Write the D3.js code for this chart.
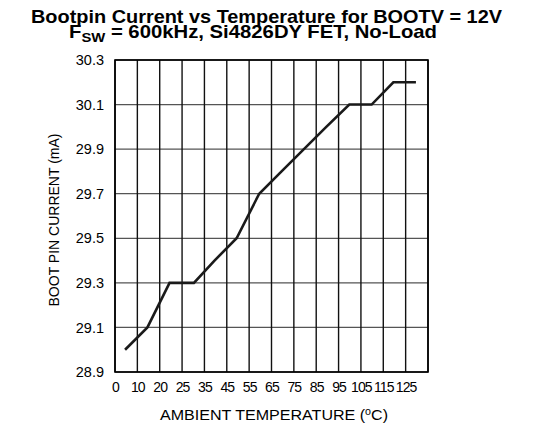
<!DOCTYPE html>
<html>
<head>
<meta charset="utf-8">
<script src="https://cdn.jsdelivr.net/npm/d3@7"></script>
<style>
  body { margin: 0; background: #fff; }
  text { font-family: "Liberation Sans", Arial, sans-serif; fill: #000; }
</style>
</head>
<body>
<div id="chart"></div>
<script>
// x axis is not linear in temperature: each labelled temp gets an equal column
var tickTemps = [0, 10, 20, 25, 35, 45, 55, 65, 75, 85, 95, 105, 115, 125];
var edgeTemp = 135; // right border, no label
var yTicks = [28.9, 29.1, 29.3, 29.5, 29.7, 29.9, 30.1, 30.3];

// measured curve
var temps = [4.5, 14.5, 22.2, 30.3, 39.5, 49.4, 59.5, 69.5, 79.5, 89.5, 99.8, 109.8, 119.5, 129.6];
var current = [29.0, 29.1, 29.3, 29.3, 29.4, 29.5, 29.7, 29.8, 29.9, 30.0, 30.1, 30.1, 30.2, 30.2];

var W = 533, H = 428;
// plot box (window.top is reserved, so prefix these)
var plotL = 115, plotR = 428, plotT = 60, plotB = 372;

var svg = d3.select("#chart").append("svg")
    .attr("width", W)
    .attr("height", H);

svg.append("rect").attr("width", W).attr("height", H).attr("fill", "#fff");

var xDomain = tickTemps.concat([edgeTemp]);
var xScale = d3.scaleLinear()
    .domain(xDomain)
    .range(xDomain.map(function(d, i){ return plotL + i * (plotR - plotL) / (xDomain.length - 1); }));

var yScale = d3.scaleLinear()
    .domain([28.9, 30.3])
    .range([plotB, plotT]);

//horizontal grid
svg.append("g")
  .selectAll("line")
  .data(yTicks)
  .enter()
  .append("line")
    .attr("x1", plotL).attr("x2", plotR)
    .attr("y1", function(d){ return yScale(d); })
    .attr("y2", function(d){ return yScale(d); })
    .attr("stroke", "#555")
    .attr("stroke-width", 1.3);

//vertical grid
svg.append("g")
  .selectAll("line")
  .data(xDomain)
  .enter()
  .append("line")
    .attr("x1", function(d){ return xScale(d); })
    .attr("x2", function(d){ return xScale(d); })
    .attr("y1", plotT).attr("y2", plotB)
    .attr("stroke", "#111")
    .attr("stroke-width", 1.4);

//frame
svg.append("rect")
  .attr("x", plotL).attr("y", plotT)
  .attr("width", plotR - plotL).attr("height", plotB - plotT)
  .attr("fill", "none")
  .attr("stroke", "#000")
  .attr("stroke-width", 1.6);

//axes (labels only, grid drawn above)
var xAxis = svg.append("g")
  .attr("transform", "translate(0," + plotB + ")")
  .call(d3.axisBottom(xScale).tickValues(tickTemps).tickSize(0).tickPadding(10).tickFormat(d3.format("d")));
xAxis.select(".domain").remove();
xAxis.selectAll("text")
  .attr("font-size", 14)
  .attr("letter-spacing", "-0.9px")
  .attr("font-family", "Liberation Sans, Arial, sans-serif");

var yAxis = svg.append("g")
  .attr("transform", "translate(" + plotL + ",0)")
  .call(d3.axisLeft(yScale).tickValues(yTicks).tickSize(0).tickPadding(11).tickFormat(d3.format(".1f")));
yAxis.select(".domain").remove();
yAxis.selectAll("text")
  .attr("font-size", 14.5)
  .attr("font-family", "Liberation Sans, Arial, sans-serif");

//data line
var line = d3.line()
  .x(function(d, i){ return xScale(temps[i]); })
  .y(function(d){ return yScale(d); });

svg.append("path")
  .datum(current)
  .attr("d", line)
  .attr("fill", "none")
  .attr("stroke", "#1a1a1a")
  .attr("stroke-width", 2.6)
  .attr("stroke-linejoin", "miter");

//titles - source image is a bit stretched sideways, so pin the widths
svg.append("text")
  .attr("x", 31).attr("y", 23)
  .attr("font-size", 18.5)
  .attr("font-weight", "bold")
  .attr("textLength", 471)
  .attr("lengthAdjust", "spacingAndGlyphs")
  .text("Bootpin Current vs Temperature for BOOTV = 12V");

var t2 = svg.append("text")
  .attr("x", 69).attr("y", 38)
  .attr("font-size", 18.5)
  .attr("font-weight", "bold")
  .attr("textLength", 368)
  .attr("lengthAdjust", "spacingAndGlyphs");
t2.append("tspan").text("F");
t2.append("tspan").attr("font-size", 13.5).attr("dy", 4).text("SW");
t2.append("tspan").attr("dy", -4).text(" = 600kHz, Si4826DY FET, No-Load");

//axis titles
svg.append("text")
  .attr("transform", "translate(59," + ((plotT + plotB) / 2 + 4) + ") rotate(-90)")
  .attr("text-anchor", "middle")
  .attr("font-size", 14)
  .text("BOOT PIN CURRENT (mA)");

var xl = svg.append("text")
  .attr("x", 160).attr("y", 420)
  .attr("font-size", 15)
  .attr("textLength", 228)
  .attr("lengthAdjust", "spacingAndGlyphs");
xl.append("tspan").text("AMBIENT TEMPERATURE (");
xl.append("tspan").attr("font-size", 10).attr("dy", -5).text("o");
xl.append("tspan").attr("dy", 5).text("C)");
</script>
</body>
</html>
